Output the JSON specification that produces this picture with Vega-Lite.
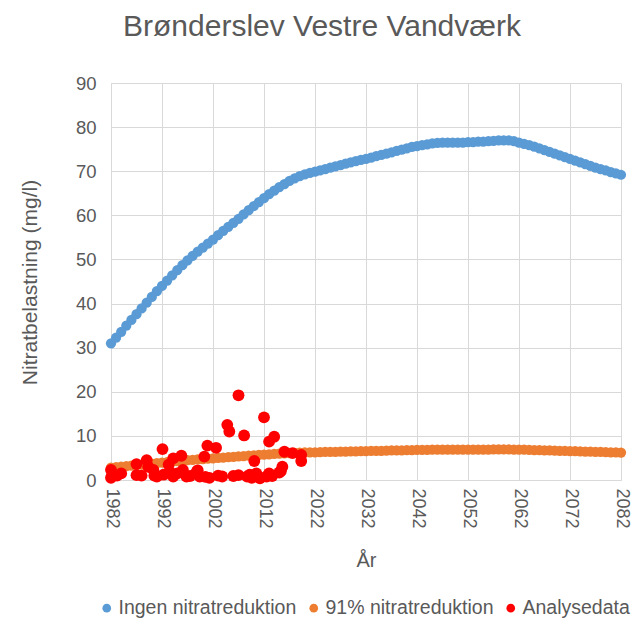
{
  "$schema": "https://vega.github.io/schema/vega-lite/v6.json",
  "width": 510,
  "height": 397,
  "autosize": {"type": "none"},
  "padding": {"left": 111, "top": 83, "right": 16, "bottom": 140},
  "background": "white",
  "title": {
    "text": "Brønderslev Vestre Vandværk",
    "font": "Liberation Sans",
    "fontSize": 30,
    "fontWeight": "normal",
    "color": "#595959",
    "anchor": "middle",
    "frame": "group",
    "dx": -44,
    "baseline": "bottom",
    "offset": 2
  },
  "config": {
    "view": {"stroke": null},
    "font": "Liberation Sans",
    "axis": {
      "gridColor": "#D9D9D9",
      "gridWidth": 1,
      "domainColor": "#D9D9D9",
      "ticks": false,
      "labelColor": "#595959",
      "titleColor": "#595959",
      "labelFont": "Liberation Sans",
      "titleFont": "Liberation Sans",
      "titleFontWeight": "normal"
    },
    "legend": {
      "labelFont": "Liberation Sans",
      "labelColor": "#595959",
      "labelLimit": 400
    }
  },
  "datasets": {
    "ingen": [
      {"x":1982,"y":31.0},{"x":1983,"y":32.3},{"x":1984,"y":33.6},{"x":1985,"y":35.0},{"x":1986,"y":36.3},{"x":1987,"y":37.6},{"x":1988,"y":38.9},{"x":1989,"y":40.2},{"x":1990,"y":41.5},{"x":1991,"y":42.8},
      {"x":1992,"y":44.0},{"x":1993,"y":45.2},{"x":1994,"y":46.4},{"x":1995,"y":47.6},{"x":1996,"y":48.7},{"x":1997,"y":49.8},{"x":1998,"y":50.8},{"x":1999,"y":51.8},{"x":2000,"y":52.7},{"x":2001,"y":53.6},
      {"x":2002,"y":54.5},{"x":2003,"y":55.5},{"x":2004,"y":56.5},{"x":2005,"y":57.4},{"x":2006,"y":58.3},{"x":2007,"y":59.2},{"x":2008,"y":60.2},{"x":2009,"y":61.2},{"x":2010,"y":62.1},{"x":2011,"y":63.0},
      {"x":2012,"y":63.9},{"x":2013,"y":64.8},{"x":2014,"y":65.6},{"x":2015,"y":66.4},{"x":2016,"y":67.1},{"x":2017,"y":67.8},{"x":2018,"y":68.4},{"x":2019,"y":68.9},{"x":2020,"y":69.3},{"x":2021,"y":69.6},
      {"x":2022,"y":69.9},{"x":2023,"y":70.2},{"x":2024,"y":70.5},{"x":2025,"y":70.8},{"x":2026,"y":71.1},{"x":2027,"y":71.4},{"x":2028,"y":71.7},{"x":2029,"y":72.0},{"x":2030,"y":72.3},{"x":2031,"y":72.6},
      {"x":2032,"y":72.8},{"x":2033,"y":73.1},{"x":2034,"y":73.4},{"x":2035,"y":73.7},{"x":2036,"y":74.0},{"x":2037,"y":74.3},{"x":2038,"y":74.6},{"x":2039,"y":74.9},{"x":2040,"y":75.2},{"x":2041,"y":75.5},
      {"x":2042,"y":75.7},{"x":2043,"y":75.9},{"x":2044,"y":76.1},{"x":2045,"y":76.3},{"x":2046,"y":76.4},{"x":2047,"y":76.5},{"x":2048,"y":76.5},{"x":2049,"y":76.5},{"x":2050,"y":76.5},{"x":2051,"y":76.5},
      {"x":2052,"y":76.6},{"x":2053,"y":76.6},{"x":2054,"y":76.7},{"x":2055,"y":76.7},{"x":2056,"y":76.8},{"x":2057,"y":76.9},{"x":2058,"y":77.0},{"x":2059,"y":77.0},{"x":2060,"y":77.0},{"x":2061,"y":76.8},
      {"x":2062,"y":76.5},{"x":2063,"y":76.2},{"x":2064,"y":75.9},{"x":2065,"y":75.6},{"x":2066,"y":75.2},{"x":2067,"y":74.8},{"x":2068,"y":74.4},{"x":2069,"y":74.0},{"x":2070,"y":73.6},{"x":2071,"y":73.2},
      {"x":2072,"y":72.8},{"x":2073,"y":72.4},{"x":2074,"y":72.0},{"x":2075,"y":71.6},{"x":2076,"y":71.2},{"x":2077,"y":70.8},{"x":2078,"y":70.5},{"x":2079,"y":70.2},{"x":2080,"y":69.8},{"x":2081,"y":69.5},
      {"x":2082,"y":69.2}
    ],
    "reduk": [
      {"x":1982,"y":2.79},{"x":1983,"y":2.91},{"x":1984,"y":3.02},{"x":1985,"y":3.15},{"x":1986,"y":3.27},{"x":1987,"y":3.38},{"x":1988,"y":3.50},{"x":1989,"y":3.62},{"x":1990,"y":3.74},{"x":1991,"y":3.85},
      {"x":1992,"y":3.96},{"x":1993,"y":4.07},{"x":1994,"y":4.18},{"x":1995,"y":4.28},{"x":1996,"y":4.38},{"x":1997,"y":4.48},{"x":1998,"y":4.57},{"x":1999,"y":4.66},{"x":2000,"y":4.74},{"x":2001,"y":4.82},
      {"x":2002,"y":4.91},{"x":2003,"y":5.00},{"x":2004,"y":5.09},{"x":2005,"y":5.17},{"x":2006,"y":5.25},{"x":2007,"y":5.33},{"x":2008,"y":5.42},{"x":2009,"y":5.51},{"x":2010,"y":5.59},{"x":2011,"y":5.67},
      {"x":2012,"y":5.75},{"x":2013,"y":5.83},{"x":2014,"y":5.90},{"x":2015,"y":5.98},{"x":2016,"y":6.04},{"x":2017,"y":6.10},{"x":2018,"y":6.16},{"x":2019,"y":6.20},{"x":2020,"y":6.24},{"x":2021,"y":6.26},
      {"x":2022,"y":6.29},{"x":2023,"y":6.32},{"x":2024,"y":6.35},{"x":2025,"y":6.37},{"x":2026,"y":6.40},{"x":2027,"y":6.43},{"x":2028,"y":6.45},{"x":2029,"y":6.48},{"x":2030,"y":6.51},{"x":2031,"y":6.53},
      {"x":2032,"y":6.55},{"x":2033,"y":6.58},{"x":2034,"y":6.61},{"x":2035,"y":6.63},{"x":2036,"y":6.66},{"x":2037,"y":6.69},{"x":2038,"y":6.71},{"x":2039,"y":6.74},{"x":2040,"y":6.77},{"x":2041,"y":6.80},
      {"x":2042,"y":6.81},{"x":2043,"y":6.83},{"x":2044,"y":6.85},{"x":2045,"y":6.87},{"x":2046,"y":6.88},{"x":2047,"y":6.89},{"x":2048,"y":6.89},{"x":2049,"y":6.89},{"x":2050,"y":6.89},{"x":2051,"y":6.89},
      {"x":2052,"y":6.89},{"x":2053,"y":6.89},{"x":2054,"y":6.90},{"x":2055,"y":6.90},{"x":2056,"y":6.91},{"x":2057,"y":6.92},{"x":2058,"y":6.93},{"x":2059,"y":6.93},{"x":2060,"y":6.93},{"x":2061,"y":6.91},
      {"x":2062,"y":6.89},{"x":2063,"y":6.86},{"x":2064,"y":6.83},{"x":2065,"y":6.80},{"x":2066,"y":6.77},{"x":2067,"y":6.73},{"x":2068,"y":6.70},{"x":2069,"y":6.66},{"x":2070,"y":6.62},{"x":2071,"y":6.59},
      {"x":2072,"y":6.55},{"x":2073,"y":6.52},{"x":2074,"y":6.48},{"x":2075,"y":6.44},{"x":2076,"y":6.41},{"x":2077,"y":6.37},{"x":2078,"y":6.35},{"x":2079,"y":6.32},{"x":2080,"y":6.28},{"x":2081,"y":6.26},
      {"x":2082,"y":6.23}
    ],
    "analyse": [
      {"x":1982.0,"y":0.5},{"x":1982.2,"y":1.0},{"x":1982.0,"y":2.3},{"x":1983.2,"y":1.0},{"x":1984.0,"y":1.5},
      {"x":1987.0,"y":1.1},{"x":1987.0,"y":3.6},{"x":1988.0,"y":1.0},{"x":1989.0,"y":4.5},{"x":1989.3,"y":3.0},
      {"x":1990.3,"y":2.3},{"x":1990.5,"y":1.0},{"x":1991.0,"y":0.8},{"x":1992.1,"y":7.0},{"x":1992.3,"y":1.2},
      {"x":1993.5,"y":1.9},{"x":1993.3,"y":3.5},{"x":1994.2,"y":0.8},{"x":1994.2,"y":4.9},{"x":1995.0,"y":1.5},
      {"x":1995.8,"y":5.5},{"x":1996.1,"y":2.3},{"x":1996.8,"y":0.8},{"x":1997.5,"y":0.9},{"x":1998.8,"y":1.9},
      {"x":1999.4,"y":0.8},{"x":1999.0,"y":2.2},{"x":2000.3,"y":5.3},{"x":2000.9,"y":7.8},{"x":2000.5,"y":0.7},
      {"x":2001.3,"y":0.5},{"x":2002.6,"y":7.3},{"x":2003.0,"y":1.0},{"x":2003.8,"y":0.8},{"x":2004.8,"y":12.5},
      {"x":2005.2,"y":11.0},{"x":2006.0,"y":0.9},{"x":2007.0,"y":19.2},{"x":2007.0,"y":1.1},{"x":2008.1,"y":10.1},
      {"x":2008.7,"y":0.8},{"x":2009.2,"y":1.2},{"x":2009.6,"y":0.5},{"x":2010.1,"y":4.3},{"x":2010.5,"y":1.5},
      {"x":2011.2,"y":0.4},{"x":2012.0,"y":14.2},{"x":2012.5,"y":0.8},{"x":2013.0,"y":8.7},{"x":2013.0,"y":1.5},
      {"x":2014.0,"y":9.8},{"x":2013.6,"y":0.9},{"x":2015.6,"y":3.0},{"x":2015.0,"y":1.7},{"x":2016.0,"y":6.4},
      {"x":2015.3,"y":2.0},{"x":2017.6,"y":6.1},{"x":2019.3,"y":5.7},{"x":2019.3,"y":4.3}
    ]
  },
  "encoding": {
    "x": {
      "field": "x",
      "type": "quantitative",
      "scale": {"domain": [1982, 2082], "nice": false, "zero": false},
      "axis": {
        "values": [1982, 1992, 2002, 2012, 2022, 2032, 2042, 2052, 2062, 2072, 2082],
        "format": "d",
        "labelAngle": 90,
        "labelFontSize": 18,
        "labelPadding": 8,
        "title": "År",
        "titleFontSize": 20,
        "titleX": 255,
        "titleY": 80,
        "titleBaseline": "middle"
      }
    },
    "y": {
      "field": "y",
      "type": "quantitative",
      "scale": {"domain": [0, 90], "nice": false},
      "axis": {
        "values": [0, 10, 20, 30, 40, 50, 60, 70, 80, 90],
        "labelFontSize": 18.5,
        "labelPadding": 15,
        "title": "Nitratbelastning (mg/l)",
        "titleFontSize": 21,
        "titleX": -81,
        "titleY": 199,
        "titleAngle": -90,
        "titleAlign": "center",
        "titleBaseline": "middle"
      }
    }
  },
  "layer": [
    {
      "data": {"name": "ingen"},
      "mark": {"type": "point", "shape": "circle", "filled": true, "opacity": 1, "size": 105},
      "encoding": {
        "color": {
          "datum": "Ingen nitratreduktion",
          "type": "nominal",
          "scale": {
            "domain": ["Ingen nitratreduktion", "91% nitratreduktion", "Analysedata"],
            "range": ["#5B9BD5", "#ED7D31", "#FF0000"]
          },
          "legend": {
            "title": null,
            "orient": "none",
            "direction": "horizontal",
            "legendX": -14,
            "legendY": 515,
            "symbolType": "circle",
            "symbolSize": 75,
            "symbolStrokeWidth": 0,
            "labelFontSize": 19.5,
            "labelOffset": 2,
            "columnPadding": 7
          }
        }
      }
    },
    {
      "data": {"name": "reduk"},
      "mark": {"type": "point", "shape": "circle", "filled": true, "opacity": 1, "size": 105},
      "encoding": {"color": {"datum": "91% nitratreduktion", "type": "nominal"}}
    },
    {
      "data": {"name": "analyse"},
      "mark": {"type": "point", "shape": "circle", "filled": true, "opacity": 1, "size": 140},
      "encoding": {"color": {"datum": "Analysedata", "type": "nominal"}}
    }
  ]
}
